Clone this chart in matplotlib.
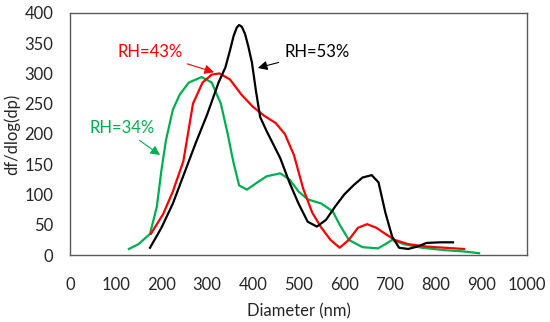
import numpy as np
import matplotlib.pyplot as plt

plt.rcParams['font.family'] = ['Lato', 'DejaVu Sans']

# RH=53% (black)
d53 = [175, 200, 225, 250, 275, 300, 325, 340, 350, 358, 365, 370, 376, 383, 390, 398, 407, 416,
       430, 460, 480, 500, 520, 540, 560, 580, 600, 620, 640, 660, 675, 690, 705, 720,
       740, 760, 780, 810, 838]
v53 = [12, 45, 85, 135, 185, 232, 285, 310, 338, 362, 376, 380, 377, 365, 345, 318, 270, 228,
       205, 160, 120, 85, 55, 47, 58, 80, 100, 115, 128, 132, 120, 70, 30, 12,
       10, 14, 20, 21, 21]

# RH=43% (red)
d43 = [177, 204, 225, 248, 269, 290, 310, 327, 350, 375, 400, 425, 450, 470, 490, 510,
       530, 550, 570, 590, 610, 630, 650, 670, 690, 710, 740, 780, 820, 862]
v43 = [35, 68, 105, 155, 250, 285, 298, 300, 290, 265, 245, 230, 218, 200, 165, 110,
       70, 45, 25, 12, 25, 45, 51, 45, 35, 25, 18, 14, 12, 10]

# RH=34% (green)
d34 = [129, 150, 175, 190, 200, 210, 225, 240, 260, 288, 310, 330, 345, 357, 370, 387,
       410, 430, 460, 480, 500, 520, 550, 575, 590, 610, 640, 674, 690, 705, 730, 770,
       820, 860, 895]
v34 = [10, 18, 35, 80, 140, 190, 240, 265, 285, 294, 285, 250, 200, 155, 115, 108,
       120, 130, 135, 125, 105, 92, 85, 72, 50, 25, 13, 11, 18, 25, 18, 12,
       8, 6, 3]

xticks = list(range(0, 1001, 100))
yticks = list(range(0, 401, 50))

fig = plt.figure(figsize=(5.5, 3.22), dpi=100)
ax = fig.add_axes([0.1273, 0.208, 0.831, 0.752])

ax.plot(d34, v34, color='#00B050', lw=1.6)
ax.plot(d43, v43, color='#FF0000', lw=1.6)
ax.plot(d53, v53, color='black', lw=1.6)

ax.set_xlim(0, 1000)
ax.set_ylim(0, 400)
ax.set_xticks(xticks)
ax.set_yticks(yticks)
ax.tick_params(length=0, labelsize=12, colors='#262626')
ax.tick_params(axis='x', pad=16)
ax.tick_params(axis='y', pad=12)
for s in ax.spines.values():
    s.set_color('#595959')
    s.set_linewidth(1.0)

ax.set_xlabel('Diameter (nm)', fontsize=12, color='#262626', labelpad=7)
ax.set_ylabel('df/dlog(dp)', fontsize=12, color='#262626', labelpad=3)

arrow = dict(arrowstyle='-|>', lw=0.8, shrinkA=2, shrinkB=0, mutation_scale=14)
ax.annotate('RH=43%', xy=(315, 302), xytext=(175, 335), color='#FF0000', fontsize=12,
            ha='center', va='center', arrowprops=dict(arrow, color='#FF0000'))
ax.annotate('RH=53%', xy=(411, 309), xytext=(540, 335), color='black', fontsize=12,
            ha='center', va='center', arrowprops=dict(arrow, color='black'))
ax.annotate('RH=34%', xy=(197, 165), xytext=(114, 210), color='#00B050', fontsize=12,
            ha='center', va='center', arrowprops=dict(arrow, color='#00B050'))

fig.savefig('out.png', dpi=100)
